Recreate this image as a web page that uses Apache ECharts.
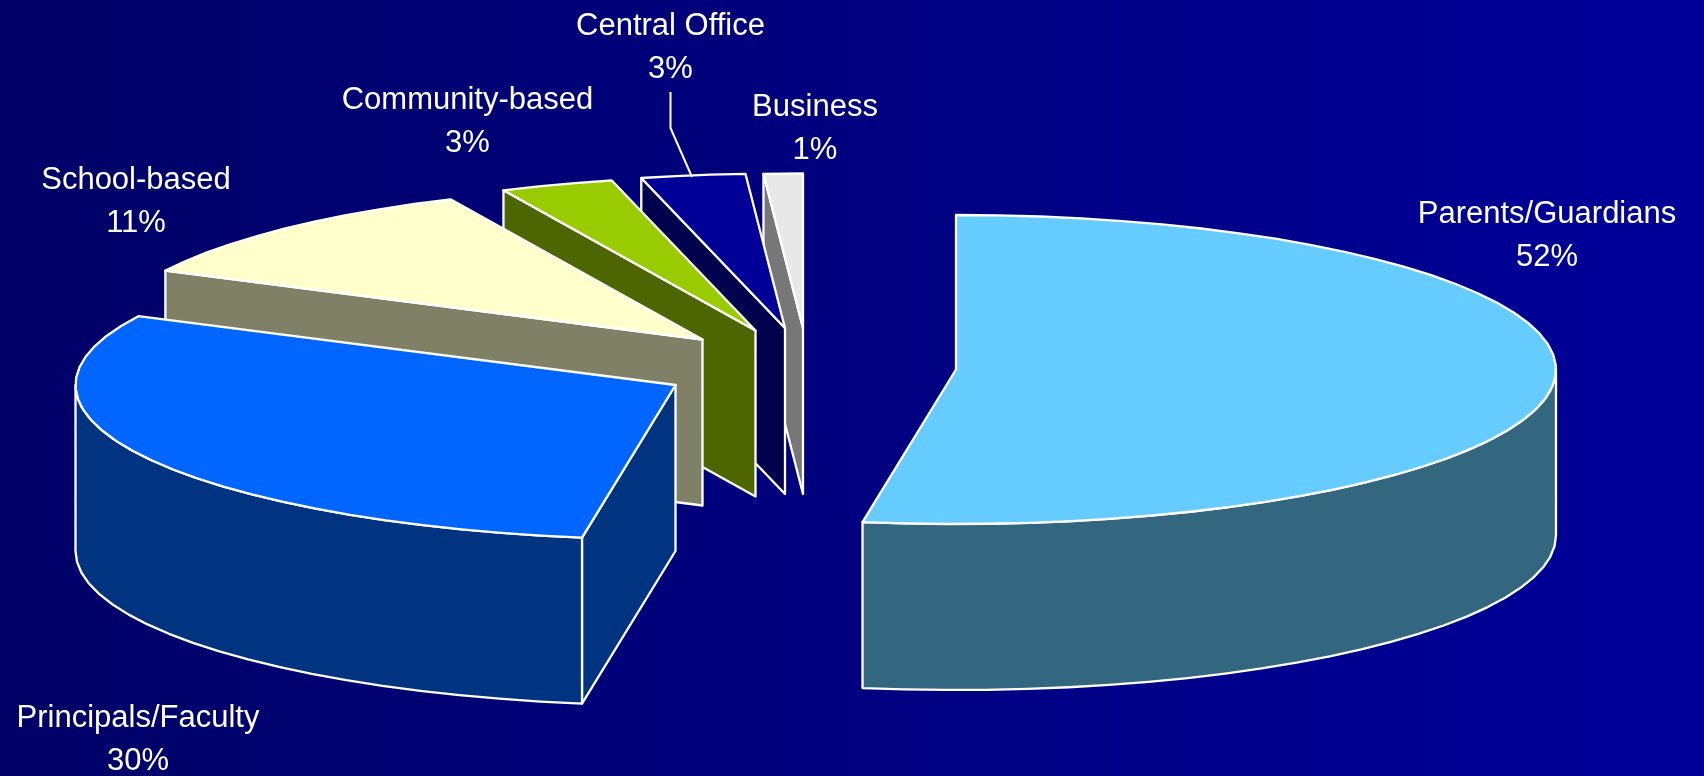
<!DOCTYPE html>
<html>
<head>
<meta charset="utf-8">
<style>html,body{margin:0;padding:0;background:#000066}#c{width:1704px;height:776px}</style>
<script src="https://cdn.jsdelivr.net/npm/echarts@6/dist/echarts.min.js"></script>
</head>
<body>
<div id="c"></div>
<script>
// ---- data ----
const categories = ['Parents/Guardians', 'Principals/Faculty', 'School-based', 'Community-based', 'Central Office', 'Business'];
const shares = [52.49, 29.86, 10.75, 3.05, 2.80, 1.05];

// ---- styles and layout ----
const topColors = ['#66CCFF', '#0066FF', '#FFFFCC', '#99CC00', '#000099', '#E8E8E8'];
const sideColors = ['#33667F', '#003380', '#808066', '#4D6600', '#00004D', '#777777'];
const apexX = [956, 675.5, 702.5, 755.5, 785, 803];
const apexY = [369.5, 385, 339.5, 330.5, 328, 328];
const labelX = [1547, 138, 136, 467.5, 670.5, 815];
const labelY = [235.5, 739.5, 201.5, 122, 48, 128.5];
const leaderX = [670.5, 670.5, 692];
const leaderY = [92, 128, 177];
const RX = 600, RY = 154.5, DEPTH = 166, ARC_STEP = 4;
const EDGE = { stroke: '#FFFFFF', lineWidth: 2.3, lineJoin: 'round' };

const total = shares.reduce((a, b) => a + b, 0);

function rim(cx, cy, deg) {
  const r = deg * Math.PI / 180;
  return [cx + RX * Math.sin(r), cy - RY * Math.cos(r)];
}
function arc(cx, cy, from, to) {
  const pts = [];
  if (to <= from) return pts;
  const n = Math.max(1, Math.round((to - from) / ARC_STEP));
  for (let i = 0; i <= n; i++) pts.push(rim(cx, cy, from + (to - from) * i / n));
  return pts;
}
const poly = (points, fill, z2) => ({
  type: 'polygon', z2,
  shape: { points },
  style: Object.assign({ fill }, EDGE)
});

function renderItem(params, api) {
  const i = params.dataIndex;
  const before = shares.slice(0, i).reduce((a, b) => a + b, 0);
  const a0 = before / total * 360;
  const a1 = (before + api.value(0)) / total * 360;
  const cx = apexX[i], cy = apexY[i];
  const apex = [cx, cy];
  const base = (categories.length - i) * 10;
  const down = p => [p[0], p[1] + DEPTH];
  const children = [];

  // cut faces turned towards the viewer
  if (Math.sin(a0 * Math.PI / 180) < 0) {
    const s = rim(cx, cy, a0);
    children.push(poly([apex, s, down(s), down(apex)], sideColors[i], base + 1));
  }
  if (Math.sin(a1 * Math.PI / 180) > 0) {
    const e = rim(cx, cy, a1);
    children.push(poly([apex, e, down(e), down(apex)], sideColors[i], base + 1));
  }
  // outer wall, front half of the ellipse only
  const wall = arc(cx, cy, Math.max(a0, 90), Math.min(a1, 270));
  if (wall.length) {
    children.push(poly(wall.concat(wall.slice().reverse().map(down)), sideColors[i], base + 2));
  }
  // top face
  children.push(poly([apex].concat(arc(cx, cy, a0, a1)), topColors[i], base + 3));

  // label
  children.push({
    type: 'text', z2: 200,
    x: labelX[i], y: labelY[i],
    style: {
      text: categories[i] + '\n' + Math.round(api.value(0)) + '%',
      fill: '#FFFFFF',
      font: '31px "Liberation Sans", Arial, sans-serif',
      lineHeight: 43,
      align: 'center', verticalAlign: 'middle'
    }
  });
  if (categories[i] === 'Central Office') {
    children.push({
      type: 'polyline', z2: 201,
      shape: { points: leaderX.map((x, k) => [x, leaderY[k]]) },
      style: { stroke: '#FFFFFF', lineWidth: 2, fill: null }
    });
  }
  return { type: 'group', children };
}

const chart = echarts.init(document.getElementById('c'), null, { renderer: 'canvas', width: 1704, height: 776 });
chart.setOption({
  animation: false,
  backgroundColor: new echarts.graphic.LinearGradient(0, 0, 1, 0, [
    { offset: 0, color: '#000066' },
    { offset: 1, color: '#000099' }
  ]),
  tooltip: { show: false },
  series: [{
    type: 'custom',
    coordinateSystem: 'none',
    silent: true,
    renderItem,
    data: shares.map((v, k) => ({ name: categories[k], value: [v] }))
  }]
});
</script>
</body>
</html>
